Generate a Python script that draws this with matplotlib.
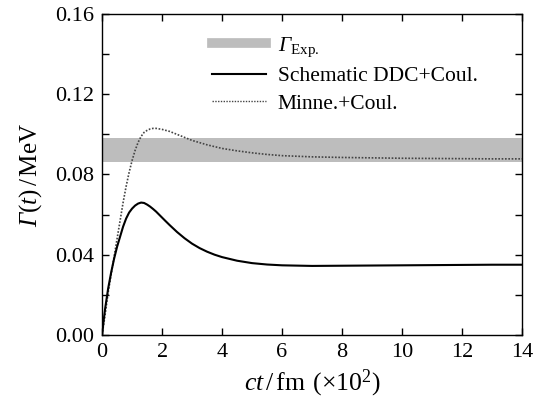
import numpy as np
import matplotlib
matplotlib.use("Agg")
import matplotlib.pyplot as plt
from matplotlib.lines import Line2D

plt.rcParams['font.family'] = ['Liberation Serif', 'DejaVu Serif']
plt.rcParams['mathtext.fontset'] = 'custom'
plt.rcParams['mathtext.rm'] = 'Liberation Serif'
plt.rcParams['mathtext.it'] = 'Liberation Serif:italic'
plt.rcParams['mathtext.sf'] = 'Liberation Serif:italic'

# data (ct in units of 100 fm, Gamma in MeV)
t_ddc = [0, 0.05, 0.1, 0.2, 0.3, 0.4, 0.5, 0.6, 0.7, 0.8, 0.9, 1.0, 1.1, 1.2, 1.3, 1.4, 1.5, 1.6,
         1.7, 1.8, 1.9, 2.0, 2.1, 2.25, 2.5, 2.75, 3.0, 3.25, 3.5, 3.75, 4.0, 4.5, 5.0, 5.5, 6.0,
         7.0, 8.0, 9.0, 10.0, 11.0, 12.0, 13.0, 14.0]
g_ddc = [0, 0.007, 0.013, 0.023, 0.031, 0.038, 0.044, 0.049, 0.054, 0.058, 0.061, 0.063, 0.0645,
         0.0655, 0.066, 0.0658, 0.065, 0.0640, 0.0628, 0.0615, 0.0600, 0.0585, 0.0570, 0.0548,
         0.0513, 0.0482, 0.0455, 0.0433, 0.0415, 0.0400, 0.0388, 0.0370, 0.0358, 0.0351, 0.0347,
         0.0344, 0.0345, 0.0346, 0.0347, 0.0348, 0.0349, 0.035, 0.035]

t_min = [0, 0.1, 0.2, 0.3, 0.4, 0.5, 0.6, 0.7, 0.8, 0.9, 1.0, 1.1, 1.2, 1.3, 1.4, 1.5, 1.6, 1.7,
         1.8, 2.0, 2.25, 2.5, 2.75, 3.0, 3.5, 4.0, 4.5, 5.0, 5.5, 6.0, 7.0, 8.0, 9.0, 10.0, 11.0,
         12.0, 13.0, 14.0]
g_min = [0, 0.010, 0.021, 0.030, 0.039, 0.048, 0.057, 0.066, 0.074, 0.081, 0.087, 0.092, 0.096,
         0.099, 0.101, 0.102, 0.1027, 0.103, 0.103, 0.1025, 0.1015, 0.1, 0.0985, 0.097, 0.0948,
         0.093, 0.0918, 0.0908, 0.09, 0.0894, 0.0888, 0.0885, 0.0883, 0.0881, 0.088, 0.0879,
         0.0878, 0.0878]

band_lo, band_hi = 0.086, 0.098

xticks = [0, 2, 4, 6, 8, 10, 12, 14]
yticks = [0.00, 0.04, 0.08, 0.12, 0.16]
yticklabels = ['0.00', '0.04', '0.08', '0.12', '0.16']

fig = plt.figure(figsize=(5.46, 4.03), dpi=100)
ax = fig.add_axes([0.187, 0.169, 0.769, 0.796])

ax.axhspan(band_lo, band_hi, color='#bdbdbd', lw=0, zorder=1)
ax.plot(t_ddc, g_ddc, color='black', lw=1.5, zorder=3)
ax.plot(t_min, g_min, color='#444444', lw=1.2, ls=(0, (1, 1)), zorder=2)

ax.set_xlim(0, 14)
ax.set_ylim(0, 0.16)
ax.set_xticks(xticks)
ax.set_yticks(yticks)
ax.set_yticklabels(yticklabels)
ax.set_yticks([0.02, 0.06, 0.10, 0.14], minor=True)
ax.tick_params(which='both', direction='in', top=True, right=True, labelsize=16, width=1.0)
ax.tick_params(which='major', length=5, pad=6)
ax.tick_params(which='minor', length=5)
for s in ax.spines.values():
    s.set_linewidth(1.0)

ax.set_xlabel(r'$ct\,/\,\mathrm{fm}\;\,(\times10^2)$', fontsize=18.5, labelpad=4)
ax.set_ylabel(r'$\mathsf{Γ}(t)\,/\,\mathrm{MeV}$', fontsize=18, labelpad=8)

handles = [Line2D([], [], color='#bdbdbd', lw=7),
           Line2D([], [], color='black', lw=1.5),
           Line2D([], [], color='#444444', lw=1.0, ls=(0, (1, 1)))]
labels = [r'$\mathsf{Γ}_{\mathrm{Exp.}}$', 'Schematic DDC+Coul.', 'Minne.+Coul.']
ax.legend(handles, labels, loc='upper right', bbox_to_anchor=(0.94, 0.995), frameon=False,
          fontsize=15.5, handlelength=2.5, handletextpad=0.55, labelspacing=0.35)

fig.savefig('out.png', dpi=100)
